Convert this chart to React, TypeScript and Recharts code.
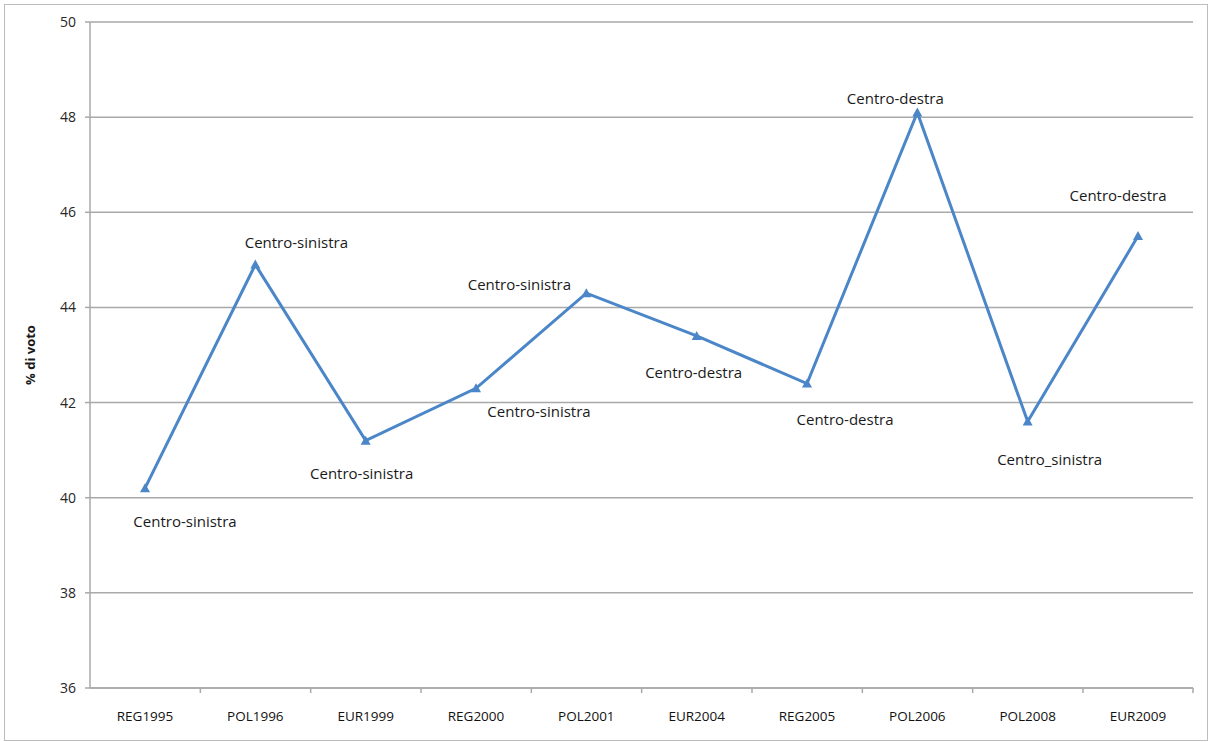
import React from 'react';
import {
  LineChart,
  Line,
  XAxis,
  YAxis,
  CartesianGrid,
  LabelList,
} from 'recharts';

// election rounds on the x axis
const CATEGORIES = [
  'REG1995',
  'POL1996',
  'EUR1999',
  'REG2000',
  'POL2001',
  'EUR2004',
  'REG2005',
  'POL2006',
  'POL2008',
  'EUR2009',
];

// % of vote for the winning coalition
const VOTE_SHARE = [40.2, 44.9, 41.2, 42.3, 44.3, 43.4, 42.4, 48.1, 41.6, 45.5];

// winning coalition in each round
const COALITIONS = [
  'Centro-sinistra',
  'Centro-sinistra',
  'Centro-sinistra',
  'Centro-sinistra',
  'Centro-sinistra',
  'Centro-destra',
  'Centro-destra',
  'Centro-destra',
  'Centro_sinistra',
  'Centro-destra',
];

const Y_TICKS = [36, 38, 40, 42, 44, 46, 48, 50];

// where each coalition label sits relative to its point
const LABEL_OFFSETS: [number, number][] = [
  [40, 33],
  [41, -23],
  [-4, 32],
  [63, 23],
  [-67, -9],
  [-3, 36],
  [38, 35],
  [-22, -14],
  [22, 37],
  [-20, -41],
];

const WIDTH = 1211;
const HEIGHT = 742;
const LINE_COLOR = '#4a86c8';
const AXIS_COLOR = '#a9a9a9';
const HALF_BAND = 55;

const data = CATEGORIES.map((name, i) => ({
  name,
  value: VOTE_SHARE[i],
  coalition: COALITIONS[i],
}));

const Triangle = (props: any) => {
  const { cx, cy } = props;
  if (cx == null || cy == null) return null;
  return (
    <path
      d={`M${cx},${cy - 5} L${cx + 5},${cy + 4} L${cx - 5},${cy + 4} Z`}
      fill={LINE_COLOR}
    />
  );
};

const XTick = (props: any) => {
  const { x, y, payload, index } = props;
  const last = index === CATEGORIES.length - 1;
  return (
    <g>
      {index > 0 && (
        <line x1={x - HALF_BAND} x2={x - HALF_BAND} y1={y} y2={y + 5} stroke={AXIS_COLOR} strokeWidth={1.5} />
      )}
      {last && (
        <line x1={x + HALF_BAND} x2={x + HALF_BAND} y1={y} y2={y + 5} stroke={AXIS_COLOR} strokeWidth={1.5} />
      )}
      <text x={x} y={y + 28} textAnchor="middle" dominantBaseline="central" fontSize={13.5} fill="#111">
        {payload.value}
      </text>
    </g>
  );
};

const renderLabel = (props: any) => {
  const { x, y, index, value } = props;
  const [dx, dy] = LABEL_OFFSETS[index] || [0, 0];
  return (
    <text
      x={x + dx}
      y={y + dy}
      textAnchor="middle"
      dominantBaseline="central"
      fontSize={15}
      fill="#1a1a1a"
    >
      {value}
    </text>
  );
};

export default function App() {
  return (
    <div
      style={{
        position: 'absolute',
        left: 0,
        top: 0,
        width: WIDTH,
        height: HEIGHT,
        background: '#fff',
        fontFamily: '"Open Sans", "Noto Sans", sans-serif',
      }}
    >
      <div
        style={{
          position: 'absolute',
          left: 4,
          top: 4,
          width: 1202,
          height: 735,
          border: '1px solid #bdbdbd',
        }}
      />
      <div style={{ position: 'absolute', left: 0, top: 0 }}>
        <LineChart
          width={WIDTH}
          height={HEIGHT}
          data={data}
          margin={{ top: 22, right: 18, bottom: 0, left: 0 }}
        >
          <CartesianGrid vertical={false} stroke={AXIS_COLOR} strokeWidth={1.5} />
          <XAxis
            dataKey="name"
            interval={0}
            padding={{ left: HALF_BAND, right: HALF_BAND }}
            axisLine={{ stroke: AXIS_COLOR, strokeWidth: 1.5 }}
            tickLine={false}
            tickSize={0}
            tickMargin={0}
            tick={<XTick />}
            height={54}
          />
          <YAxis
            width={90}
            domain={[36, 50]}
            ticks={Y_TICKS}
            interval={0}
            axisLine={{ stroke: AXIS_COLOR, strokeWidth: 1.5 }}
            tickLine={{ stroke: AXIS_COLOR, strokeWidth: 1.5 }}
            tickSize={5}
            tickMargin={9}
            tick={{ fill: '#262626', fontSize: 14 }}
            label={{
              value: '% di voto',
              angle: -90,
              position: 'insideLeft',
              offset: 30,
              style: { fontWeight: 700, fontSize: 13, fill: '#1a1a1a', textAnchor: 'middle' },
            }}
          />
          <Line
            type="linear"
            dataKey="value"
            stroke={LINE_COLOR}
            strokeWidth={3}
            dot={<Triangle />}
            activeDot={false}
            isAnimationActive={false}
          >
            <LabelList dataKey="coalition" content={renderLabel} />
          </Line>
        </LineChart>
      </div>
    </div>
  );
}
